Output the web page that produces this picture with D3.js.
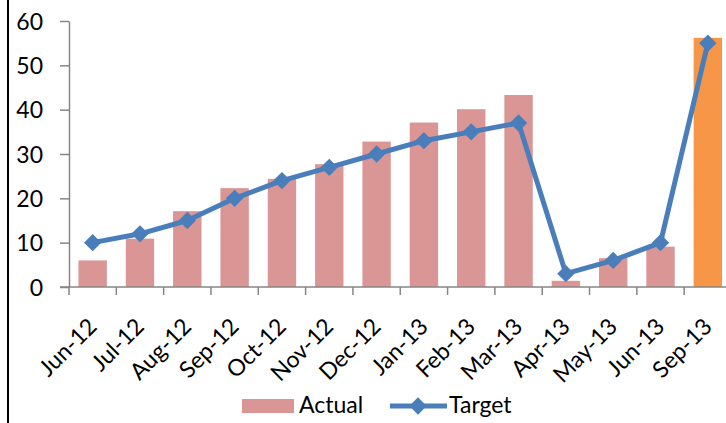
<!DOCTYPE html>
<html><head><meta charset="utf-8">
<script src="https://cdn.jsdelivr.net/npm/d3@7/dist/d3.min.js"></script>
<style>body{margin:0;background:#fff;}svg{display:block;font-family:Lato,"Open Sans",sans-serif;}</style>
</head><body>
<svg id="c" width="726" height="423"></svg>
<script>
const categories = ["Jun-12","Jul-12","Aug-12","Sep-12","Oct-12","Nov-12","Dec-12","Jan-13","Feb-13","Mar-13","Apr-13","May-13","Jun-13","Sep-13"];
const actual = [6.0,10.9,17.1,22.3,24.4,27.7,32.8,37.1,40.1,43.3,1.4,6.5,9.1,56.2];
const target = [10,12,15,20,24,27,30,33,35,37,3,6,10,55];
const yTicks = [0,10,20,30,40,50,60];
const highlight = "Sep-13";

const svg = d3.select("#c");
const x = d3.scaleBand().domain(categories).range([69, 731.5]).paddingInner(0.4).paddingOuter(0.2);
const y = d3.scaleLinear().domain([0,60]).range([287, 21]);
const fs = 23;

// left border
svg.append("line").attr("x1",8).attr("x2",8).attr("y1",0).attr("y2",423).attr("stroke","#000").attr("stroke-width",2);

// bars
svg.append("g").selectAll("rect").data(categories).join("rect")
  .attr("x", d => x(d)).attr("width", x.bandwidth())
  .attr("y", (d,i) => y(actual[i])).attr("height", (d,i) => y(0) - y(actual[i]))
  .attr("fill", d => d === highlight ? "#f79646" : "#d99694");

// y axis
const ya = svg.append("g").attr("transform","translate(69,0)")
  .call(d3.axisLeft(y).tickValues(yTicks).tickSize(9).tickPadding(17).tickSizeOuter(0));
ya.select(".domain").attr("stroke","#868686").attr("stroke-width",1.5);
ya.selectAll(".tick line").attr("stroke","#868686").attr("stroke-width",1.5);
ya.selectAll(".tick text").attr("font-size",fs).attr("font-family","Lato").attr("fill","#000").attr("dy","0.36em");

// x axis
const step = x.step();
const xa = svg.append("g").attr("transform","translate(0,287)");
xa.append("line").attr("x1",60).attr("x2",731.5).attr("y1",0).attr("y2",0).attr("stroke","#868686").attr("stroke-width",1.5);
const bounds = d3.range(categories.length+1).map(i => x.range()[0] + i*step);
xa.selectAll("line.t").data(bounds).join("line").attr("class","t")
  .attr("x1",d=>d).attr("x2",d=>d).attr("y1",0).attr("y2",8).attr("stroke","#868686").attr("stroke-width",1.5);
svg.append("g").selectAll("text").data(categories).join("text")
  .attr("transform", d => `translate(${x(d)+x.bandwidth()/2+5.5},328) rotate(-45)`)
  .attr("text-anchor","end").attr("font-size",fs).attr("fill","#000").text(d=>d);

// line
const lineColor = "#4a7ebb";
const line = d3.line().x((d,i)=>x(categories[i])+x.bandwidth()/2).y(d=>y(d));
svg.append("path").datum(target).attr("d",line).attr("fill","none").attr("stroke",lineColor).attr("stroke-width",5).attr("stroke-linejoin","round");
const diamond = d3.symbol().type(d3.symbolDiamond2 || d3.symbolSquare).size(170);
svg.append("g").selectAll("path").data(target).join("path")
  .attr("d", d3.symbol().type(d3.symbolSquare).size(150))
  .attr("transform",(d,i)=>`translate(${x(categories[i])+x.bandwidth()/2},${y(d)}) rotate(45)`)
  .attr("fill",lineColor);

// legend
const lg = svg.append("g");
lg.append("rect").attr("x",242).attr("y",399).attr("width",52).attr("height",14).attr("fill","#d99694");
lg.append("text").attr("x",299).attr("y",413).attr("font-size",fs).text("Actual");
lg.append("line").attr("x1",390).attr("x2",447).attr("y1",406).attr("y2",406).attr("stroke",lineColor).attr("stroke-width",5);
lg.append("path").attr("d", d3.symbol().type(d3.symbolSquare).size(150)).attr("transform","translate(418,406) rotate(45)").attr("fill",lineColor);
lg.append("text").attr("x",449).attr("y",413).attr("font-size",fs).text("Target");
</script>
</body></html>
